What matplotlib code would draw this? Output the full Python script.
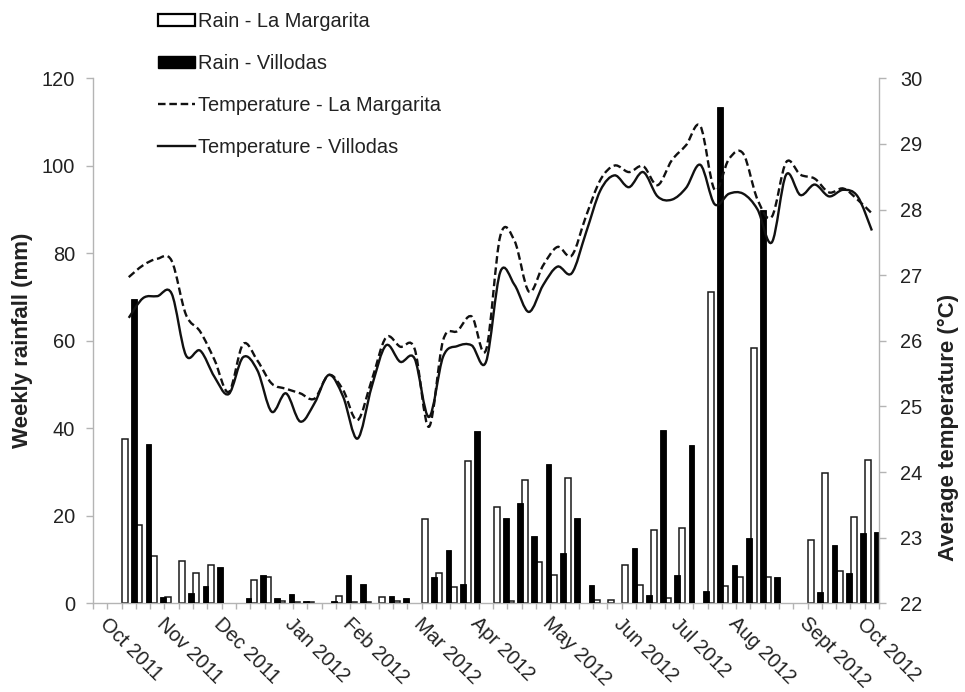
import matplotlib

matplotlib.use("Agg")
import matplotlib.pyplot as plt
import matplotlib.transforms as mtransforms
import numpy as np
from matplotlib.lines import Line2D
from matplotlib.patches import Patch, PathPatch
from matplotlib.path import Path

plt.rcParams["font.family"] = ["Liberation Sans", "DejaVu Sans"]

# weekly categories, Oct 2011 - Oct 2012
weeks = np.arange(55)

rain_margarita = [
    0, 0, 37.5, 18.0, 10.8, 1.5, 9.7, 6.9, 8.8, 0,
    0, 5.4, 6.0, 0.5, 0.3, 0.3, 0, 1.7, 0.3, 0.3,
    1.4, 0.5, 0, 19.3, 6.9, 3.8, 32.5, 0, 22.0, 0.5,
    28.2, 9.5, 6.5, 28.6, 0, 0.8, 0.8, 8.8, 4.2, 16.8,
    1.3, 17.2, 0, 71.2, 4.0, 6.1, 58.3, 6.0, 0, 0,
    14.6, 29.7, 7.5, 19.8, 32.7,
]
rain_villodas = [
    0, 0, 69.6, 36.5, 1.5, 0, 2.3, 4.0, 8.3, 0,
    1.2, 6.5, 1.2, 2.2, 0.6, 0.2, 0.5, 6.5, 4.5, 0,
    1.6, 1.2, 0, 6.1, 12.2, 4.4, 39.5, 0, 19.5, 23.0,
    15.3, 31.9, 11.5, 19.5, 4.2, 0, 0, 12.6, 1.9, 39.7,
    6.5, 36.3, 2.9, 113.5, 8.8, 14.9, 90.0, 6.0, 0, 0,
    2.7, 13.4, 7.0, 16.2, 16.4,
]

# temperature records start at week 2
temp_first_week = 2
temp_margarita = [
    26.97, 27.15, 27.25, 27.22, 26.40, 26.14, 25.71, 25.22, 25.95, 25.70,
    25.35, 25.27, 25.20, 25.12, 25.48, 25.25, 24.79, 25.40, 26.05, 25.91,
    25.88, 24.69, 26.01, 26.15, 26.37, 25.86, 27.60, 27.52, 26.75, 27.15,
    27.43, 27.30, 27.90, 28.45, 28.67, 28.57, 28.66, 28.37, 28.75, 28.98,
    29.27, 28.30, 28.77, 28.85, 28.15, 27.89, 28.72, 28.53, 28.47, 28.26,
    28.32, 28.15, 27.94,
]
temp_villodas = [
    26.35, 26.65, 26.68, 26.72, 25.78, 25.85, 25.45, 25.19, 25.75, 25.55,
    24.92, 25.20, 24.77, 25.05, 25.48, 25.15, 24.51, 25.30, 25.93, 25.68,
    25.73, 24.84, 25.76, 25.92, 25.93, 25.68, 27.05, 26.85, 26.44, 26.85,
    27.13, 27.03, 27.65, 28.29, 28.52, 28.34, 28.57, 28.20, 28.15, 28.33,
    28.68, 28.08, 28.24, 28.24, 28.00, 27.50, 28.53, 28.22, 28.38, 28.20,
    28.30, 28.20, 27.68,
]

month_labels = [
    "Oct 2011", "Nov 2011", "Dec 2011", "Jan 2012", "Feb 2012", "Mar 2012",
    "Apr 2012", "May 2012", "Jun 2012", "Jul 2012", "Aug 2012", "Sept 2012",
    "Oct 2012",
]
month_start_week = [0, 4, 8, 13, 17, 22, 26, 31, 36, 40, 44, 49, 53]

TEXT = "#222222"
AXIS = "#b4b4b4"
FS = 14.4


def smooth_path(x, y):
    # Catmull-Rom style smoothing, expressed as cubic Bezier segments
    verts = [(x[0], y[0])]
    codes = [Path.MOVETO]
    n = len(x)
    for i in range(n - 1):
        x0, y0 = (x[i - 1], y[i - 1]) if i > 0 else (x[i], y[i])
        x3, y3 = (x[i + 2], y[i + 2]) if i + 2 < n else (x[i + 1], y[i + 1])
        c1 = (x[i] + (x[i + 1] - x0) / 6, y[i] + (y[i + 1] - y0) / 6)
        c2 = (x[i + 1] - (x3 - x[i]) / 6, y[i + 1] - (y3 - y[i]) / 6)
        verts += [c1, c2, (x[i + 1], y[i + 1])]
        codes += [Path.CURVE4] * 3
    return Path(verts, codes)


fig = plt.figure(figsize=(9.65, 6.92), dpi=100)
ax = fig.add_axes([0.0964, 0.128, 0.8145, 0.759])
ax2 = ax.twinx()

rm = np.array(rain_margarita, dtype=float)
rv = np.array(rain_villodas, dtype=float)
on_m = rm > 0
on_v = rv > 0
ax.bar(weeks[on_m] + 0.24, rm[on_m], width=0.42, color="white",
       edgecolor="#1a1a1a", linewidth=1.1, zorder=2)
ax.bar(weeks[on_v] + 0.88, rv[on_v], width=0.40, color="black",
       edgecolor="black", linewidth=0.6, zorder=3)

tx = np.arange(len(temp_margarita)) + temp_first_week + 0.5
ax2.add_patch(PathPatch(smooth_path(tx, temp_margarita), fill=False,
                        edgecolor="#111111", linewidth=1.7,
                        linestyle=(0, (3.2, 1.6)), capstyle="butt"))
ax2.add_patch(PathPatch(smooth_path(tx, temp_villodas), fill=False,
                        edgecolor="#111111", linewidth=1.7))

ax.set_xlim(0, 55)
ax.set_ylim(0, 120)
ax2.set_ylim(22, 30)
ax.set_yticks(np.arange(0, 121, 20))
ax2.set_yticks(np.arange(22, 31, 1))
ax.set_xticks(np.arange(56))
ax.set_xticklabels([])

ax.spines["top"].set_visible(False)
ax2.spines["top"].set_visible(False)
ax2.spines["left"].set_visible(False)
ax2.spines["bottom"].set_visible(False)
for s in ("left", "bottom"):
    ax.spines[s].set_color(AXIS)
    ax.spines[s].set_linewidth(1.0)
ax.spines["right"].set_visible(False)
ax2.spines["right"].set_color(AXIS)
ax2.spines["right"].set_linewidth(1.0)

ax.tick_params(axis="x", length=4, color=AXIS, width=1.0)
ax.tick_params(axis="y", length=5, color=AXIS, width=1.0, labelsize=FS,
               labelcolor=TEXT, pad=8)
ax2.tick_params(axis="y", length=5, color=AXIS, width=1.0, labelsize=FS,
                labelcolor=TEXT, pad=10)

label_tf = mtransforms.blended_transform_factory(ax.transData, ax.transAxes)
for wk, name in zip(month_start_week, month_labels):
    ax.text(wk + 0.2, -0.02, name, transform=label_tf, rotation=-45,
            ha="left", va="top", fontsize=FS, color=TEXT)

ax.set_ylabel("Weekly rainfall (mm)", fontsize=16, fontweight="bold",
              color=TEXT)
ax.yaxis.set_label_coords(-0.077, 0.5)
ax2.set_ylabel("Average temperature (°C)", fontsize=16, fontweight="bold",
               color=TEXT, rotation=90)
ax2.yaxis.set_label_coords(1.075, 0.336)

handles = [
    Patch(facecolor="white", edgecolor="black", linewidth=1.6),
    Patch(facecolor="black", edgecolor="black"),
    Line2D([], [], color="#111111", linewidth=1.7, linestyle=(0, (3.2, 1.6))),
    Line2D([], [], color="#111111", linewidth=1.7),
]
labels = ["Rain - La Margarita", "Rain - Villodas",
          "Temperature - La Margarita", "Temperature - Villodas"]
fig.legend(handles, labels, loc="upper left",
           bbox_to_anchor=(158 / 965, 1 - 12 / 692), frameon=False,
           fontsize=FS, handlelength=1.85, handleheight=0.55,
           handletextpad=0.15, labelspacing=1.15, borderpad=0,
           borderaxespad=0, labelcolor=TEXT)

fig.savefig("out.png", dpi=100)
plt.close(fig)
